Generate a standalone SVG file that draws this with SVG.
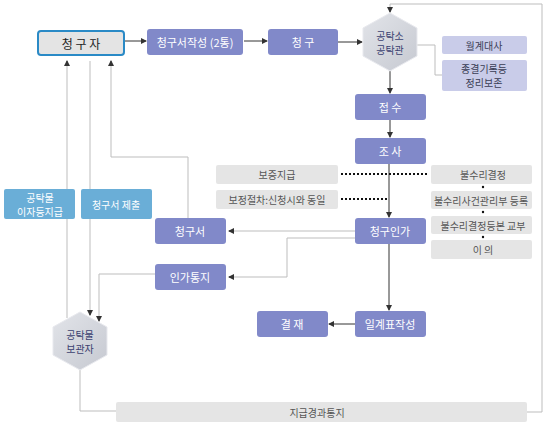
<svg xmlns="http://www.w3.org/2000/svg" width="549" height="425" viewBox="0 0 549 425">
<style>
text{font-family:"Noto Sans CJK KR","Noto Sans",sans-serif;text-anchor:middle;dominant-baseline:central}
.p{fill:#8189c9}
.pt{fill:#fff;font-size:11px}
.lp{fill:#c9cce9}
.lpt{fill:#3a3d55;font-size:10px}
.g{fill:#e5e5e5}
.gt{fill:#555;font-size:10px}
.b{fill:#6aaed7}
.bt{fill:#fff;font-size:10px}
.hx{fill:url(#hg);stroke:#e8e9ee;stroke-width:1}
.ht{fill:#3b4170;font-size:10px}
.dk{stroke:#333;stroke-width:1;fill:none}
.lt{stroke:#bdbdbd;stroke-width:1;fill:none}
.dot{stroke:#111;stroke-width:2;stroke-dasharray:2 2;fill:none}
</style>
<defs>
<linearGradient id="hg" x1="0" y1="0" x2="1" y2="1">
<stop offset="0" stop-color="#e2e4e9"/>
<stop offset="1" stop-color="#c6c9d1"/>
</linearGradient>
<marker id="a" markerWidth="6" markerHeight="6" refX="5" refY="3" orient="auto" markerUnits="userSpaceOnUse">
<path d="M0,0 L6,3 L0,6 z" fill="#333"/>
</marker>
</defs>

<g id="connectors">
<path class="dk" d="M124,41 H146" marker-end="url(#a)"/>
<path class="dk" d="M244,41 H267" marker-end="url(#a)"/>
<path class="dk" d="M338,42 H362" marker-end="url(#a)"/>
<path class="dk" d="M390,71 V93" marker-end="url(#a)"/>
<path class="dk" d="M390,120 V137" marker-end="url(#a)"/>
<path class="dk" d="M389,164 V217" marker-end="url(#a)"/>
<path class="dk" d="M389,244 V310" marker-end="url(#a)"/>
<path class="dk" d="M355,324 H329" marker-end="url(#a)"/>
<path class="lt" d="M417,45 H435 V75 H442"/>
<path class="lt" d="M527,412 H542 V4 H390 V11"/>
<path class="dk" d="M390,8 V12" marker-end="url(#a)"/>
<path class="lt" d="M355,231 H229"/>
<path class="dk" d="M233,231 H229" marker-end="url(#a)"/>
<path class="lt" d="M355,238 H287 V277 H229"/>
<path class="dk" d="M233,277 H229" marker-end="url(#a)"/>
<path class="lt" d="M188,218 V157 H111 V62"/>
<path class="dk" d="M111,66 V61" marker-end="url(#a)"/>
<path class="lt" d="M67,318 V62"/>
<path class="dk" d="M67,66 V61" marker-end="url(#a)"/>
<path class="lt" d="M90,61 V314"/>
<path class="dk" d="M90,310 V315" marker-end="url(#a)"/>
<path class="lt" d="M155,274 H99 V320"/>
<path class="dk" d="M99,316 V321" marker-end="url(#a)"/>
<path class="lt" d="M80,370 V411 H116"/>
<path class="dot" d="M341,174 H429"/>
<path class="dot" d="M341,199 H388"/>
<circle cx="483" cy="187" r="1.2" fill="#111"/>
<circle cx="483" cy="212" r="1.2" fill="#111"/>
<circle cx="483" cy="237" r="1.2" fill="#111"/>
</g>

<g id="n-claimant"><rect x="38" y="31" width="86" height="24" rx="3" fill="#e4e4e4" stroke="#2a8ac6" stroke-width="2"/><text x="81" y="43" font-size="12" fill="#222">청 구 자</text></g>
<g id="n-write"><rect class="p" x="147" y="29" width="96" height="26" rx="3"/><text class="pt" x="195" y="42">청구서작성 (2통)</text></g>
<g id="n-claim"><rect class="p" x="268" y="29" width="70" height="26" rx="3"/><text class="pt" x="303" y="42">청 구</text></g>
<g id="n-office"><polygon class="hx" points="390,13 417,28 417,56 390,71 363,56 363,28"/><text class="ht" x="390" y="35" font-size="9.5">공탁소</text><text class="ht" x="390" y="49" font-size="9.5">공탁관</text></g>
<g id="n-daily"><rect class="lp" x="442" y="36" width="85" height="18" rx="2"/><text class="lpt" x="484" y="45">월계대사</text></g>
<g id="n-archive"><rect class="lp" x="442" y="60" width="85" height="31" rx="2"/><text class="lpt" x="484" y="68.5" font-size="9.5">종결기록등</text><text class="lpt" x="484" y="82.5" font-size="9.5">정리보존</text></g>
<g id="n-receive"><rect class="p" x="355" y="94" width="71" height="26" rx="3"/><text class="pt" x="390" y="107">접 수</text></g>
<g id="n-inspect"><rect class="p" x="355" y="138" width="71" height="26" rx="3"/><text class="pt" x="390" y="151">조 사</text></g>
<g id="n-guarantee"><rect class="g" x="216" y="165" width="122" height="19" rx="2"/><text class="gt" x="277" y="174.5">보증지급</text></g>
<g id="n-correction"><rect class="g" x="216" y="190" width="122" height="19" rx="2"/><text class="gt" x="277" y="199.5">보정절차:신청시와 동일</text></g>
<g id="n-reject"><rect class="g" x="431" y="165" width="101" height="19" rx="2"/><text class="gt" x="483" y="174.5">불수리결정</text></g>
<g id="n-register"><rect class="g" x="431" y="191" width="101" height="18" rx="2"/><text class="gt" x="481" y="200">불수리사건관리부 등록</text></g>
<g id="n-copy"><rect class="g" x="431" y="216" width="101" height="18" rx="2"/><text class="gt" x="483" y="225">불수리결정등본 교부</text></g>
<g id="n-objection"><rect class="g" x="431" y="240" width="101" height="19" rx="2"/><text class="gt" x="483" y="249.5">이 의</text></g>
<g id="n-approve"><rect class="p" x="355" y="218" width="71" height="26" rx="3"/><text class="pt" x="390" y="231">청구인가</text></g>
<g id="n-claimdoc"><rect class="p" x="155" y="218" width="71" height="26" rx="3"/><text class="pt" x="190" y="231">청구서</text></g>
<g id="n-notice"><rect class="p" x="155" y="264" width="71" height="26" rx="3"/><text class="pt" x="190" y="277">인가통지</text></g>
<g id="n-interest"><rect class="b" x="4" y="189" width="71" height="30" rx="2"/><text class="bt" x="40" y="197" font-size="9.5">공탁물</text><text class="bt" x="40" y="211.5" font-size="9.5">이자등지급</text></g>
<g id="n-submit"><rect class="b" x="81" y="189" width="71" height="30" rx="2"/><text class="bt" x="116" y="204">청구서 제출</text></g>
<g id="n-keeper"><polygon class="hx" points="80,312 107,327 107,355 80,370 53,355 53,327"/><text class="ht" x="80" y="334" font-size="9.5">공탁물</text><text class="ht" x="80" y="348.5" font-size="9.5">보관자</text></g>
<g id="n-ledger"><rect class="p" x="355" y="311" width="71" height="26" rx="3"/><text class="pt" x="390" y="324">일계표작성</text></g>
<g id="n-approval"><rect class="p" x="257" y="311" width="71" height="26" rx="3"/><text class="pt" x="292" y="324">결 재</text></g>
<g id="n-result"><rect class="g" x="116" y="402" width="411" height="20" rx="2"/><text class="gt" x="317" y="412" font-size="11">지급경과통지</text></g>
</svg>
